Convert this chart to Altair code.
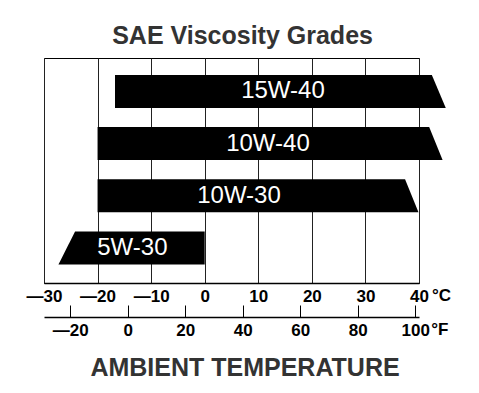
import altair as alt
import pandas as pd

# ---- data ----
grades = ["5W-30", "10W-30", "10W-40", "15W-40"]
left_bottom = [-27.3, -20.0, -20.0, -16.75]   # deg C, lower-left corner
left_top = [-24.2, -20.0, -20.0, -16.75]      # deg C, upper-left corner
right_bottom = [0.0, 39.9, 44.4, 45.0]        # deg C, lower-right corner
right_top = [0.0, 37.4, 41.9, 42.4]           # deg C, upper-right corner
label_x = [-13.5, 6.4, 11.8, 14.6]            # deg C, label centre
c_ticks = [-30, -20, -10, 0, 10, 20, 30, 40]
f_ticks = [-20, 0, 20, 40, 60, 80, 100]

FONT = "Liberation Sans"
W, H = 375, 225
HALF = 0.316

rows = []
for i, g in enumerate(grades):
    rows.append({"grade": g, "y": i - HALF, "x": left_bottom[i], "x2": right_bottom[i]})
    rows.append({"grade": g, "y": i + HALF, "x": left_top[i], "x2": right_top[i]})
bars_df = pd.DataFrame(rows)
labels_df = pd.DataFrame({"grade": grades, "x": label_x, "y": list(range(len(grades)))})

xC = alt.Scale(domain=[c_ticks[0], c_ticks[-1]], nice=False, zero=False)
yS = alt.Scale(domain=[-0.67, 3.64], nice=False, zero=False)
xF = alt.Scale(domain=[-29.15, 101.3], nice=False, zero=False)

minus_expr = "datum.value < 0 ? '\u2014' + (-datum.value) : datum.label"

c_axis = alt.Axis(values=c_ticks, title=None, grid=True, gridColor="#222222",
                  gridWidth=1, gridOpacity=1, domain=True, domainColor="black",
                  domainWidth=1.5, ticks=False, labelFont=FONT, labelFontSize=17,
                  labelFontWeight="bold", labelColor="black", labelPadding=5,
                  labelFlush=False, labelOverlap=False, labelExpr=minus_expr)

bars = alt.Chart(bars_df).mark_area(orient="horizontal", color="black").encode(
    y=alt.Y("y:Q", scale=yS, axis=None),
    x=alt.X("x:Q", scale=xC, axis=c_axis, stack=None),
    x2="x2:Q",
    detail="grade:N",
)

labels = alt.Chart(labels_df).mark_text(color="white", font=FONT, fontSize=24,
                                        baseline="middle", align="center").encode(
    x=alt.X("x:Q", scale=xC, axis=c_axis),
    y=alt.Y("y:Q", scale=yS, axis=None),
    text="grade:N",
)

degC = alt.Chart(pd.DataFrame({"x": [c_ticks[-1]]})).mark_text(
    text="°C", align="left", baseline="top", dx=13, dy=5, font=FONT,
    fontSize=17, fontWeight="bold", color="black").encode(
    x=alt.X("x:Q", scale=xC, axis=c_axis),
    y=alt.value(H),
)

top = alt.layer(bars, labels, degC).properties(
    width=W, height=H, view=alt.ViewBackground(stroke="black", strokeWidth=1))

f_axis = alt.Axis(values=f_ticks, title="AMBIENT TEMPERATURE", grid=True,
                  gridColor="black", gridWidth=1, gridOpacity=1, domain=True,
                  domainColor="black", domainWidth=1.5, ticks=False,
                  labelFont=FONT, labelFontSize=17, labelFontWeight="bold",
                  labelColor="black", labelPadding=5, labelFlush=False,
                  labelOverlap=False, labelExpr=minus_expr,
                  titleFont=FONT, titleFontSize=25, titleFontWeight="bold",
                  titleColor="#333333", titlePadding=17, titleX=200.5)

degF = alt.Chart(pd.DataFrame({"x": [f_ticks[-1]]})).mark_text(
    text="°F", align="left", baseline="top", dx=16, dy=5, font=FONT,
    fontSize=17, fontWeight="bold", color="black").encode(
    x=alt.X("x:Q", scale=xF, axis=f_axis),
    y=alt.value(12),
).properties(width=W, height=12, view=alt.ViewBackground(strokeOpacity=0))

chart = alt.vconcat(top, degF, spacing=0).properties(
    title=alt.Title("SAE Viscosity Grades", font=FONT, fontSize=25,
                    fontWeight="bold", color="#333333", anchor="middle",
                    offset=9, dx=4),
    padding={"left": 17, "top": 15, "right": 5, "bottom": 5},
).configure(font=FONT)

chart.save("out.html", embed_options={"renderer": "svg", "actions": False})
